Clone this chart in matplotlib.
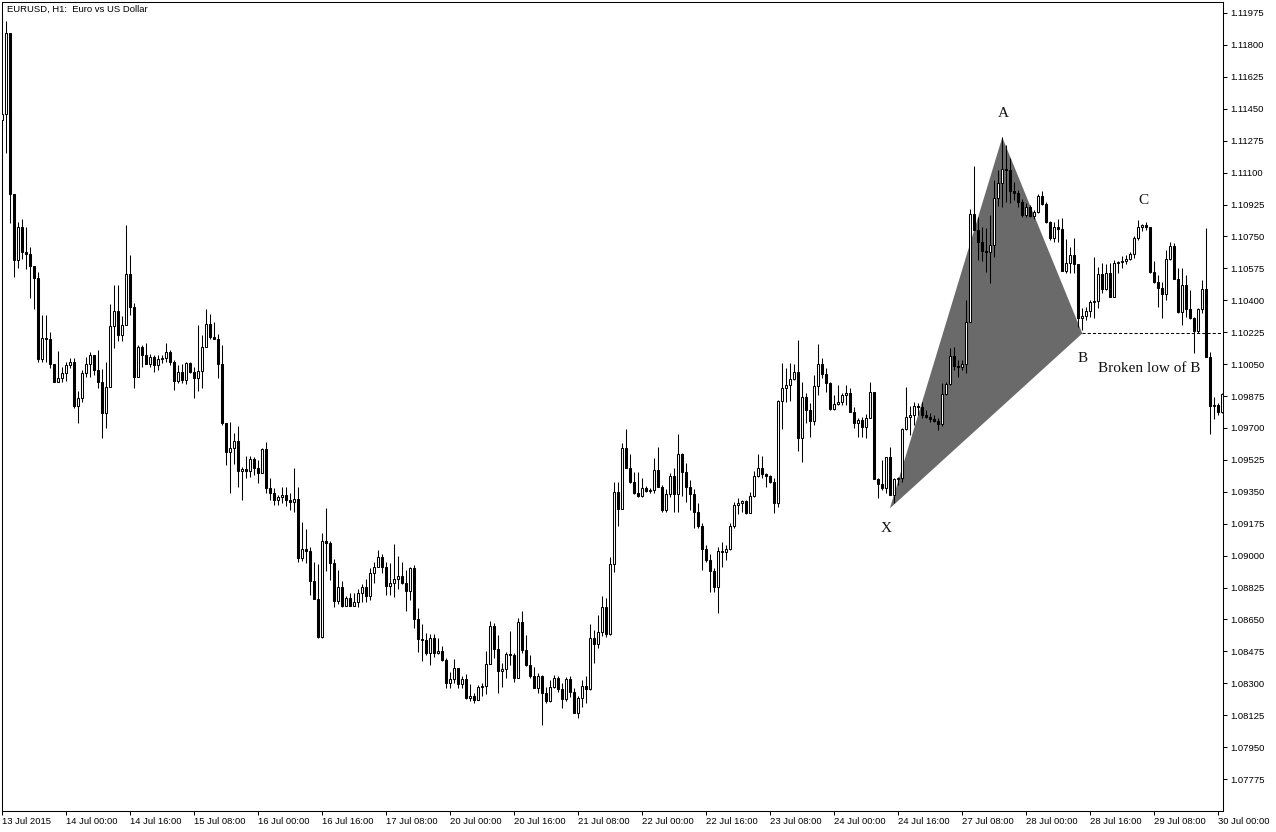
import numpy as np
import matplotlib
matplotlib.use("Agg")
import matplotlib.pyplot as plt
from matplotlib.patches import Polygon

# EURUSD H1 candles, first bar 13 Jul 2015 08:00 (opens = previous close)
first_open = 1.11388
close = [
    1.11421, 1.11865, 1.10983, 1.10621, 1.10802, 1.10665, 1.10654, 1.10588, 1.10522, 1.10078,
    1.10193, 1.10187, 1.10050, 1.09951, 1.09973, 1.10001, 1.10045, 1.10061, 1.09820, 1.09864,
    1.10001, 1.10050, 1.10099, 1.10017, 1.09951, 1.09782, 1.09924, 1.10258, 1.10341, 1.10209,
    1.10264, 1.10544, 1.10363, 1.09979, 1.10143, 1.10099, 1.10050, 1.10088, 1.10045, 1.10078,
    1.10083, 1.10116, 1.10061, 1.09957, 1.10006, 1.09962, 1.10056, 1.10006, 1.09973, 1.10012,
    1.10143, 1.10269, 1.10198, 1.10187, 1.10050, 1.09727, 1.09568, 1.09590, 1.09628, 1.09464,
    1.09475, 1.09464, 1.09530, 1.09480, 1.09453, 1.09584, 1.09370, 1.09343, 1.09305, 1.09321,
    1.09332, 1.09305, 1.09294, 1.09310, 1.08987, 1.09036, 1.09025, 1.08861, 1.08762, 1.08554,
    1.09080, 1.09069, 1.08960, 1.08752, 1.08828, 1.08724, 1.08768, 1.08724, 1.08746, 1.08795,
    1.08828, 1.08779, 1.08905, 1.08938, 1.08992, 1.08938, 1.08833, 1.08850, 1.08872, 1.08888,
    1.08850, 1.08806, 1.08932, 1.08653, 1.08543, 1.08538, 1.08466, 1.08549, 1.08466, 1.08477,
    1.08428, 1.08302, 1.08324, 1.08384, 1.08296, 1.08324, 1.08220, 1.08231, 1.08208, 1.08280,
    1.08285, 1.08406, 1.08614, 1.08488, 1.08368, 1.08379, 1.08461, 1.08455, 1.08329, 1.08636,
    1.08483, 1.08401, 1.08340, 1.08274, 1.08340, 1.08247, 1.08203, 1.08280, 1.08329, 1.08269,
    1.08214, 1.08324, 1.08253, 1.08137, 1.08220, 1.08285, 1.08269, 1.08549, 1.08516, 1.08582,
    1.08719, 1.08571, 1.08954, 1.09349, 1.09256, 1.09590, 1.09480, 1.09403, 1.09343, 1.09327,
    1.09370, 1.09354, 1.09360, 1.09469, 1.09376, 1.09250, 1.09338, 1.09436, 1.09338, 1.09557,
    1.09458, 1.09376, 1.09338, 1.09239, 1.09162, 1.09036, 1.08976, 1.08916, 1.08828, 1.09025,
    1.09020, 1.09036, 1.09162, 1.09278, 1.09289, 1.09300, 1.09234, 1.09327, 1.09436, 1.09480,
    1.09447, 1.09436, 1.09403, 1.09289, 1.09848, 1.09918, 1.09935, 1.09968, 1.10006, 1.09645,
    1.09869, 1.09798, 1.09738, 1.09929, 1.10050, 1.09995, 1.09946, 1.09804, 1.09831, 1.09842,
    1.09880, 1.09891, 1.09787, 1.09727, 1.09743, 1.09705, 1.09754, 1.09897, 1.09420, 1.09392,
    1.09370, 1.09540, 1.09332, 1.09420, 1.09425, 1.09694, 1.09760, 1.09771, 1.09820, 1.09815,
    1.09771, 1.09760, 1.09749, 1.09738, 1.09721, 1.09886, 1.09940, 1.10094, 1.10039, 1.10034,
    1.10050, 1.10280, 1.10873, 1.10786, 1.10720, 1.10670, 1.10665, 1.10703, 1.10961, 1.11043,
    1.11120, 1.11114, 1.10999, 1.10988, 1.10939, 1.10868, 1.10912, 1.10862, 1.10884, 1.10972,
    1.10928, 1.10829, 1.10742, 1.10802, 1.10791, 1.10561, 1.10605, 1.10648, 1.10599, 1.10302,
    1.10313, 1.10341, 1.10390, 1.10396, 1.10544, 1.10462, 1.10550, 1.10418, 1.10605, 1.10610,
    1.10616, 1.10627, 1.10654, 1.10742, 1.10802, 1.10813, 1.10802, 1.10555, 1.10500, 1.10467,
    1.10435, 1.10627, 1.10698, 1.10517, 1.10335, 1.10484, 1.10352, 1.10302, 1.10231, 1.10352,
    1.10462, 1.10088, 1.09820, 1.09826, 1.09787, 1.09886,
]
high = [
    1.11427, 1.11931, 1.11865, 1.10983, 1.10829, 1.10846, 1.10802, 1.10692, 1.10588, 1.10555,
    1.10319, 1.10319, 1.10226, 1.10050, 1.10121, 1.10034, 1.10061, 1.10083, 1.10083, 1.09902,
    1.10017, 1.10088, 1.10116, 1.10099, 1.10127, 1.10023, 1.10061, 1.10379, 1.10484, 1.10484,
    1.10313, 1.10813, 1.10648, 1.10385, 1.10154, 1.10154, 1.10165, 1.10105, 1.10099, 1.10099,
    1.10099, 1.10165, 1.10127, 1.10072, 1.10045, 1.10050, 1.10061, 1.10061, 1.10034, 1.10264,
    1.10209, 1.10352, 1.10324, 1.10280, 1.10215, 1.10154, 1.09727, 1.09732, 1.09672, 1.09710,
    1.09486, 1.09546, 1.09546, 1.09540, 1.09524, 1.09590, 1.09623, 1.09425, 1.09370, 1.09332,
    1.09376, 1.09376, 1.09343, 1.09480, 1.09376, 1.09184, 1.09146, 1.09047, 1.08965, 1.08954,
    1.09124, 1.09261, 1.09080, 1.08982, 1.08921, 1.08861, 1.08779, 1.08795, 1.08795, 1.08817,
    1.08844, 1.08872, 1.08932, 1.08965, 1.09031, 1.09009, 1.08965, 1.08960, 1.09064, 1.08998,
    1.08965, 1.08921, 1.08938, 1.08949, 1.08713, 1.08625, 1.08576, 1.08571, 1.08571, 1.08549,
    1.08505, 1.08439, 1.08362, 1.08434, 1.08384, 1.08340, 1.08351, 1.08296, 1.08247, 1.08291,
    1.08302, 1.08477, 1.08642, 1.08631, 1.08565, 1.08412, 1.08472, 1.08587, 1.08466, 1.08658,
    1.08697, 1.08565, 1.08455, 1.08390, 1.08357, 1.08346, 1.08280, 1.08318, 1.08346, 1.08340,
    1.08302, 1.08335, 1.08340, 1.08274, 1.08231, 1.08318, 1.08340, 1.08625, 1.08593, 1.08675,
    1.08779, 1.08768, 1.08992, 1.09403, 1.09403, 1.09617, 1.09694, 1.09557, 1.09458, 1.09458,
    1.09425, 1.09381, 1.09370, 1.09535, 1.09595, 1.09387, 1.09365, 1.09453, 1.09480, 1.09667,
    1.09562, 1.09508, 1.09414, 1.09365, 1.09289, 1.09179, 1.09058, 1.09009, 1.08932, 1.09047,
    1.09075, 1.09058, 1.09179, 1.09294, 1.09316, 1.09305, 1.09305, 1.09349, 1.09464, 1.09557,
    1.09546, 1.09453, 1.09442, 1.09425, 1.09853, 1.10056, 1.10028, 1.10056, 1.10050, 1.10182,
    1.09951, 1.09891, 1.09837, 1.09990, 1.10160, 1.10083, 1.10028, 1.09951, 1.09880, 1.09935,
    1.09891, 1.09935, 1.09918, 1.09815, 1.09754, 1.09760, 1.09776, 1.09951, 1.09897, 1.09425,
    1.09524, 1.09540, 1.09595, 1.09425, 1.09431, 1.09699, 1.09924, 1.09820, 1.09842, 1.09837,
    1.09842, 1.09798, 1.09782, 1.09771, 1.09754, 1.09946, 1.09951, 1.10138, 1.10143, 1.10072,
    1.10072, 1.10401, 1.10901, 1.11136, 1.10857, 1.10802, 1.10796, 1.10868, 1.11059, 1.11114,
    1.11295, 1.11251, 1.11180, 1.11048, 1.11005, 1.10955, 1.10934, 1.10923, 1.10895, 1.10983,
    1.10999, 1.10939, 1.10835, 1.10829, 1.10846, 1.10851, 1.10736, 1.10692, 1.10742, 1.10599,
    1.10357, 1.10363, 1.10401, 1.10637, 1.10583, 1.10605, 1.10599, 1.10605, 1.10621, 1.10616,
    1.10643, 1.10648, 1.10665, 1.10753, 1.10840, 1.10818, 1.10829, 1.10802, 1.10616, 1.10539,
    1.10500, 1.10676, 1.10720, 1.10714, 1.10577, 1.10577, 1.10539, 1.10457, 1.10308, 1.10357,
    1.10511, 1.10796, 1.10116, 1.09869, 1.09837, 1.09891,
]
low = [
    1.11323, 1.11207, 1.10824, 1.10528, 1.10577, 1.10627, 1.10572, 1.10413, 1.10352, 1.10061,
    1.10061, 1.10061, 1.10028, 1.09951, 1.09951, 1.09951, 1.09957, 1.10028, 1.09809, 1.09727,
    1.09842, 1.09979, 1.09979, 1.09990, 1.09918, 1.09645, 1.09699, 1.09924, 1.10138, 1.10176,
    1.10176, 1.10264, 1.10319, 1.09918, 1.09979, 1.10034, 1.10050, 1.10034, 1.10006, 1.10017,
    1.10056, 1.10061, 1.10045, 1.09908, 1.09946, 1.09946, 1.09940, 1.10001, 1.09864, 1.09902,
    1.09918, 1.10143, 1.10187, 1.10187, 1.09973, 1.09716, 1.09497, 1.09343, 1.09502, 1.09376,
    1.09305, 1.09425, 1.09431, 1.09442, 1.09398, 1.09453, 1.09343, 1.09305, 1.09278, 1.09278,
    1.09289, 1.09272, 1.09250, 1.09239, 1.08965, 1.08971, 1.08960, 1.08784, 1.08762, 1.08549,
    1.08549, 1.08916, 1.08866, 1.08719, 1.08735, 1.08719, 1.08724, 1.08724, 1.08724, 1.08719,
    1.08746, 1.08746, 1.08757, 1.08850, 1.08938, 1.08905, 1.08784, 1.08784, 1.08773, 1.08817,
    1.08844, 1.08697, 1.08757, 1.08603, 1.08472, 1.08423, 1.08455, 1.08401, 1.08444, 1.08461,
    1.08423, 1.08274, 1.08274, 1.08302, 1.08274, 1.08274, 1.08214, 1.08203, 1.08192, 1.08208,
    1.08231, 1.08242, 1.08406, 1.08439, 1.08247, 1.08280, 1.08329, 1.08401, 1.08307, 1.08329,
    1.08466, 1.08395, 1.08329, 1.08274, 1.08247, 1.08071, 1.08192, 1.08197, 1.08274, 1.08253,
    1.08164, 1.08203, 1.08225, 1.08137, 1.08109, 1.08170, 1.08192, 1.08264, 1.08412, 1.08494,
    1.08560, 1.08554, 1.08565, 1.08910, 1.09162, 1.09256, 1.09480, 1.09398, 1.09338, 1.09321,
    1.09321, 1.09349, 1.09343, 1.09343, 1.09376, 1.09239, 1.09239, 1.09321, 1.09239, 1.09239,
    1.09327, 1.09294, 1.09250, 1.09151, 1.09151, 1.08921, 1.08965, 1.08801, 1.08801, 1.08686,
    1.08938, 1.08976, 1.09031, 1.09151, 1.09228, 1.09239, 1.09228, 1.09234, 1.09321, 1.09431,
    1.09425, 1.09376, 1.09398, 1.09234, 1.09267, 1.09694, 1.09842, 1.09848, 1.09962, 1.09573,
    1.09513, 1.09727, 1.09650, 1.09716, 1.09880, 1.09973, 1.09897, 1.09798, 1.09798, 1.09826,
    1.09826, 1.09826, 1.09787, 1.09699, 1.09650, 1.09650, 1.09645, 1.09754, 1.09420, 1.09316,
    1.09360, 1.09343, 1.09332, 1.09289, 1.09387, 1.09403, 1.09689, 1.09661, 1.09716, 1.09771,
    1.09754, 1.09754, 1.09732, 1.09732, 1.09689, 1.09710, 1.09880, 1.09935, 1.10017, 1.09979,
    1.10017, 1.10001, 1.10280, 1.10786, 1.10621, 1.10616, 1.10555, 1.10495, 1.10637, 1.10917,
    1.10912, 1.10939, 1.10934, 1.10950, 1.10912, 1.10857, 1.10857, 1.10857, 1.10846, 1.10879,
    1.10923, 1.10824, 1.10731, 1.10720, 1.10720, 1.10561, 1.10550, 1.10550, 1.10550, 1.10253,
    1.10237, 1.10291, 1.10308, 1.10302, 1.10357, 1.10440, 1.10457, 1.10418, 1.10418, 1.10550,
    1.10577, 1.10599, 1.10621, 1.10632, 1.10731, 1.10780, 1.10786, 1.10550, 1.10495, 1.10363,
    1.10302, 1.10401, 1.10621, 1.10517, 1.10330, 1.10264, 1.10308, 1.10297, 1.10110, 1.10220,
    1.10330, 1.10088, 1.09667, 1.09749, 1.09771, 1.09782,
]

# time labels every 16 bars
time_labels = ["13 Jul 2015", "14 Jul 00:00", "14 Jul 16:00", "15 Jul 08:00", "16 Jul 00:00",
               "16 Jul 16:00", "17 Jul 08:00", "20 Jul 00:00", "20 Jul 16:00", "21 Jul 08:00",
               "22 Jul 00:00", "22 Jul 16:00", "23 Jul 08:00", "24 Jul 00:00", "24 Jul 16:00",
               "27 Jul 08:00", "28 Jul 00:00", "28 Jul 16:00", "29 Jul 08:00", "30 Jul 00:00"]
price_ticks = [1.07775, 1.07950, 1.08125, 1.08300, 1.08475, 1.08650, 1.08825, 1.09000,
               1.09175, 1.09350, 1.09525, 1.09700, 1.09875, 1.10050, 1.10225, 1.10400,
               1.10575, 1.10750, 1.10925, 1.11100, 1.11275, 1.11450, 1.11625, 1.11800, 1.11975]

# XAB pattern points (bar index, price)
pat_x = [221.9, 250.0, 270.0]
pat_y = [1.09259, 1.11293, 1.10218]
c_bar = 285
b_level = 1.10220

close = np.array(close)
high = np.array(high)
low = np.array(low)
opn = np.r_[first_open, close[:-1]]
x = np.arange(len(close))

small = "Liberation Sans"
serif = "Liberation Serif"

fig = plt.figure(figsize=(12.76, 8.32), dpi=100)
ax = fig.add_axes([2 / 1276, 21 / 832, 1221 / 1276, 809 / 832])

# triangle sits behind the bars
tri = Polygon(list(zip(pat_x, pat_y)), closed=True, facecolor="#6a6a6a",
              edgecolor="none", zorder=1)
ax.add_patch(tri)

ax.vlines(x, low, high, color="black", lw=0.75, zorder=2)
up = close >= opn
ax.bar(x[up], close[up] - opn[up], bottom=opn[up], width=0.58, color="white",
       edgecolor="black", lw=0.75, zorder=3)
ax.bar(x[~up], close[~up] - opn[~up], bottom=opn[~up], width=0.58, color="black",
       edgecolor="black", lw=0.75, zorder=3)

# broken low of B
ax.plot([pat_x[2], 305.3], [b_level, b_level], color="black", lw=0.75,
        ls=(0, (3, 2)), zorder=4)

lab = dict(fontsize=11, family=serif, color="#111111", ha="center", va="center",
           textcoords="offset pixels")
ax.annotate("X", (pat_x[0], pat_y[0]), xytext=(-4, -20), **lab)
ax.annotate("A", (pat_x[1], pat_y[1]), xytext=(1, 24), **lab)
ax.annotate("B", (pat_x[2], pat_y[2]), xytext=(0, -25), **lab)
ax.annotate("C", (c_bar, high[c_bar]), xytext=(1, 24), **lab)
ax.annotate("Broken low of B", (pat_x[2], b_level), xytext=(16, -35),
            fontsize=11, family=serif, color="#111111", ha="left", va="center",
            textcoords="offset pixels")

ax.text(5 / 1221, 1 - 7 / 809, "EURUSD, H1:  Euro vs US Dollar", transform=ax.transAxes,
        fontsize=6.8, family=small, ha="left", va="center")

ax.set_xlim(-0.075, 305.18)
ax.set_ylim(1.075996, 1.120353)

ax.set_xticks(np.arange(0, 16 * len(time_labels), 16))
ax.set_xticklabels(time_labels, ha="left", fontsize=6.8, family=small)
ax.yaxis.tick_right()
ax.set_yticks(price_ticks)
ax.set_yticklabels(["%.5f" % p for p in price_ticks], fontsize=6.8, family=small)
ax.tick_params(axis="x", direction="out", length=3, width=0.75, pad=1)
ax.tick_params(axis="y", direction="out", length=3, width=0.75, pad=2)
for s in ax.spines.values():
    s.set_linewidth(0.75)

fig.savefig("out.png", dpi=100, facecolor="white")
